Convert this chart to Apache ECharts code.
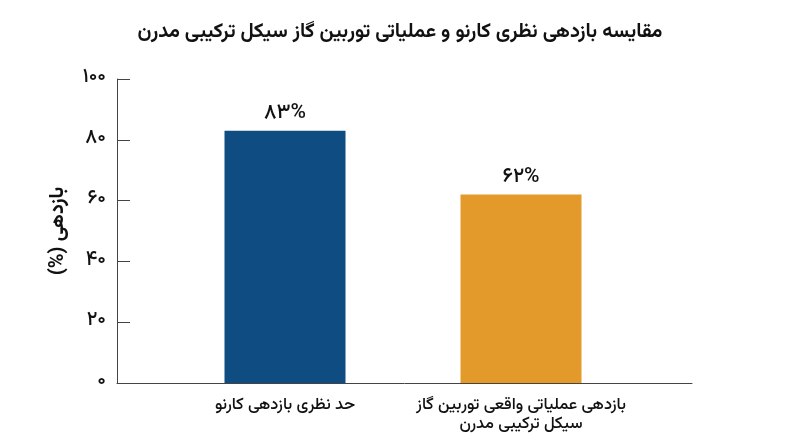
<!DOCTYPE html>
<html><head><meta charset="utf-8">
<script src="https://cdn.jsdelivr.net/npm/echarts@6/dist/echarts.min.js"></script>
<style>html,body{margin:0;padding:0;background:#fff}#c{width:800px;height:447px}</style>
</head><body><div id="c"></div>
<script>
const categories = ['حد نظری بازدهی کارنو', 'بازدهی عملیاتی واقعی توربین گاز\nسیکل ترکیبی مدرن'];
const values = [83, 62];
const valueLabels = ['۸۳%', '۶۲%'];
const barColors = ['#0f4c81', '#e39a2a'];
const yTicks = {0:'۰',20:'۲۰',40:'۴۰',60:'۶۰',80:'۸۰',100:'۱۰۰'};
const yName = 'بازدهی (%)\u200F';
const F = 'Vazirmatn, "DejaVu Sans", sans-serif';

const chart = echarts.init(document.getElementById('c'));
chart.setOption({
  backgroundColor: '#fff',
  title: {
    text: 'مقایسه بازدهی نظری کارنو و عملیاتی توربین گاز سیکل ترکیبی مدرن',
    left: 'center', top: 19,
    textStyle: {fontFamily: F, fontSize: 20, fontWeight: 'bold', color: '#111'}
  },
  grid: [
    {left: 117, right: 108, top: 79, bottom: 64},
    {left: 167, right: 161, top: 79, bottom: 64}
  ],
  xAxis: [
    {gridIndex: 0, type: 'value', min: 0, max: 1, axisLine: {show: true, lineStyle: {color: '#444', width: 1}},
     axisTick: {show: false}, axisLabel: {show: false}, splitLine: {show: false}},
    {gridIndex: 1, type: 'category', data: categories, axisLine: {show: false}, axisTick: {show: false},
     axisLabel: {interval: 0, hideOverlap: false, fontFamily: F, fontSize: 16.5, fontWeight: 500, color: '#111', margin: 14, lineHeight: 19}}
  ],
  yAxis: [
    {gridIndex: 0, type: 'value', min: 0, max: 100, interval: 20,
     name: yName, nameLocation: 'middle', nameGap: 47, nameRotate: 90,
     nameTextStyle: {fontFamily: F, fontSize: 20, fontWeight: 'bold', color: '#111'},
     axisLine: {show: true, lineStyle: {color: '#444', width: 1}},
     axisTick: {show: true, inside: true, length: 13, lineStyle: {color: '#444'}},
     axisLabel: {fontFamily: F, fontSize: 20, fontWeight: 500, color: '#111', margin: 11, formatter: v => yTicks[v]},
     splitLine: {show: false}},
    {gridIndex: 1, type: 'value', min: 0, max: 100, show: false, splitLine: {show: false}}
  ],
  series: [{
    type: 'bar', xAxisIndex: 1, yAxisIndex: 1, barWidth: 121,
    data: values.map((v, i) => ({value: v, itemStyle: {color: barColors[i]}})),
    label: {show: true, position: 'top', distance: 5, fontFamily: F, fontSize: 21, fontWeight: 500, color: '#111',
      formatter: p => valueLabels[p.dataIndex]}
  }]
});
</script></body></html>
